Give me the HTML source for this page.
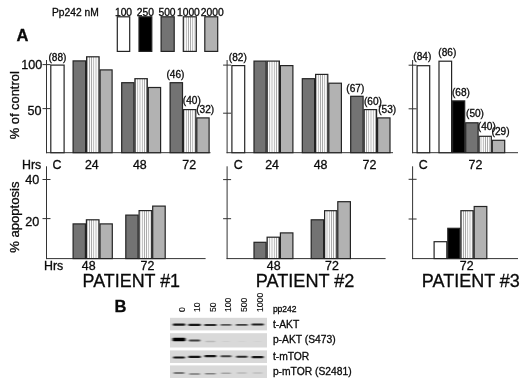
<!DOCTYPE html>
<html><head><meta charset="utf-8"><title>Figure</title>
<style>
html,body{margin:0;padding:0;background:#fff;}
body{width:520px;height:378px;overflow:hidden;}
svg{display:block;font-family:"Liberation Sans",sans-serif;}
text{fill:#0a0a0a;stroke:#0a0a0a;stroke-width:0.3px;}
</style></head><body>
<svg width="520" height="378" viewBox="0 0 520 378">
<defs>
<pattern id="st" width="2.2" height="4" patternUnits="userSpaceOnUse" patternTransform="translate(0.3 0)"><rect width="2.2" height="4" fill="#fbfbfb"/><rect x="0.8" width="0.6" height="4" fill="#888"/></pattern>
<filter id="bl" x="-20%" y="-200%" width="140%" height="500%"><feGaussianBlur stdDeviation="0.9 0.6"/></filter>
</defs>
<rect width="520" height="378" fill="#fff"/>
<rect x="117.30" y="16.8" width="12.40" height="34.6" fill="#fff" stroke="#242424" stroke-width="1.2"/>
<text x="123.5" y="15.9" font-size="10.3" text-anchor="middle" font-weight="normal" >100</text>
<rect x="139.00" y="16.8" width="12.80" height="34.6" fill="#000" stroke="#242424" stroke-width="1.2"/>
<text x="145.4" y="15.9" font-size="10.3" text-anchor="middle" font-weight="normal" >250</text>
<rect x="161.10" y="16.8" width="13.10" height="34.6" fill="#737373" stroke="#242424" stroke-width="1.2"/>
<text x="167" y="15.9" font-size="10.3" text-anchor="middle" font-weight="normal" >500</text>
<rect x="183.30" y="16.8" width="13.00" height="34.6" fill="url(#st)" stroke="#242424" stroke-width="1.2"/>
<text x="188.4" y="15.9" font-size="10.3" text-anchor="middle" font-weight="normal" >1000</text>
<rect x="204.80" y="16.8" width="12.90" height="34.6" fill="#b2b2b2" stroke="#242424" stroke-width="1.2"/>
<text x="212.2" y="15.9" font-size="10.3" text-anchor="middle" font-weight="normal" >2000</text>
<text x="52" y="15.5" font-size="10.25" text-anchor="start" font-weight="normal" >Pp242 nM</text>
<text x="16.6" y="40.7" font-size="16.5" text-anchor="start" font-weight="bold" >A</text>
<text x="114.5" y="312.2" font-size="16.5" text-anchor="start" font-weight="bold" >B</text>
<line x1="46.5" y1="60" x2="46.5" y2="153.2" stroke="#333" stroke-width="1"/>
<line x1="46.0" y1="152.7" x2="210.5" y2="152.7" stroke="#333" stroke-width="1"/>
<line x1="42.5" y1="64.6" x2="50.5" y2="64.6" stroke="#333" stroke-width="1"/>
<line x1="42.5" y1="108.6" x2="50.5" y2="108.6" stroke="#333" stroke-width="1"/>
<rect x="50.80" y="65.10" width="13.30" height="87.60" fill="#fff" stroke="#242424" stroke-width="1.2"/>
<rect x="73.10" y="60.90" width="12.50" height="91.80" fill="#737373" stroke="#242424" stroke-width="1.2"/>
<rect x="86.60" y="56.80" width="12.50" height="95.90" fill="url(#st)" stroke="#242424" stroke-width="1.2"/>
<rect x="100.10" y="69.90" width="12.00" height="82.80" fill="#b2b2b2" stroke="#242424" stroke-width="1.2"/>
<rect x="121.70" y="82.70" width="12.20" height="70.00" fill="#737373" stroke="#242424" stroke-width="1.2"/>
<rect x="134.90" y="78.70" width="12.40" height="74.00" fill="url(#st)" stroke="#242424" stroke-width="1.2"/>
<rect x="148.30" y="87.50" width="12.30" height="65.20" fill="#b2b2b2" stroke="#242424" stroke-width="1.2"/>
<rect x="170.10" y="82.70" width="12.40" height="70.00" fill="#737373" stroke="#242424" stroke-width="1.2"/>
<rect x="183.50" y="109.60" width="12.30" height="43.10" fill="url(#st)" stroke="#242424" stroke-width="1.2"/>
<rect x="196.80" y="117.90" width="12.30" height="34.80" fill="#b2b2b2" stroke="#242424" stroke-width="1.2"/>
<text x="57.4" y="61" font-size="10.1" text-anchor="middle" font-weight="normal" >(88)</text>
<text x="175.4" y="78.2" font-size="10.1" text-anchor="middle" font-weight="normal" >(46)</text>
<text x="191.8" y="104.2" font-size="10.1" text-anchor="middle" font-weight="normal" >(40)</text>
<text x="205.2" y="113" font-size="10.1" text-anchor="middle" font-weight="normal" >(32)</text>
<text x="42.2" y="68.9" font-size="12.6" text-anchor="end" font-weight="normal" >100</text>
<text x="41.6" y="115.2" font-size="12.6" text-anchor="end" font-weight="normal" >50</text>
<text transform="translate(18.9 139.3) rotate(-90)" font-size="12.9" text-anchor="start">% of control</text>
<text x="22" y="168.8" font-size="12.4" text-anchor="start" font-weight="normal" >Hrs</text>
<text x="57.1" y="168.8" font-size="12.4" text-anchor="middle" font-weight="normal" >C</text>
<text x="91.8" y="168.8" font-size="12.4" text-anchor="middle" font-weight="normal" >24</text>
<text x="139.8" y="168.8" font-size="12.4" text-anchor="middle" font-weight="normal" >48</text>
<text x="189.2" y="168.8" font-size="12.4" text-anchor="middle" font-weight="normal" >72</text>
<line x1="46.5" y1="166.3" x2="46.5" y2="259.1" stroke="#333" stroke-width="1"/>
<line x1="46.0" y1="258.6" x2="205.6" y2="258.6" stroke="#333" stroke-width="1"/>
<line x1="42.5" y1="179.5" x2="50.5" y2="179.5" stroke="#333" stroke-width="1"/>
<line x1="42.5" y1="218.6" x2="50.5" y2="218.6" stroke="#333" stroke-width="1"/>
<rect x="73.10" y="223.90" width="12.30" height="34.70" fill="#737373" stroke="#242424" stroke-width="1.2"/>
<rect x="86.40" y="219.80" width="12.60" height="38.80" fill="url(#st)" stroke="#242424" stroke-width="1.2"/>
<rect x="100.00" y="223.90" width="12.30" height="34.70" fill="#b2b2b2" stroke="#242424" stroke-width="1.2"/>
<rect x="125.80" y="215.10" width="12.30" height="43.50" fill="#737373" stroke="#242424" stroke-width="1.2"/>
<rect x="139.10" y="210.60" width="12.60" height="48.00" fill="url(#st)" stroke="#242424" stroke-width="1.2"/>
<rect x="152.70" y="206.10" width="12.50" height="52.50" fill="#b2b2b2" stroke="#242424" stroke-width="1.2"/>
<text x="39.2" y="183.8" font-size="12.6" text-anchor="end" font-weight="normal" >40</text>
<text x="39.2" y="225.8" font-size="12.6" text-anchor="end" font-weight="normal" >20</text>
<text transform="translate(18.9 252.8) rotate(-90)" font-size="13.1" text-anchor="start">% apoptosis</text>
<text x="44" y="269.5" font-size="12.4" text-anchor="start" font-weight="normal" >Hrs</text>
<text x="88.7" y="269.5" font-size="12.4" text-anchor="middle" font-weight="normal" >48</text>
<text x="147.5" y="269.5" font-size="12.4" text-anchor="middle" font-weight="normal" >72</text>
<text x="82.6" y="287.2" font-size="17.9" text-anchor="start" font-weight="normal" >PATIENT #1</text>
<line x1="227.1" y1="60" x2="227.1" y2="153.2" stroke="#333" stroke-width="1"/>
<line x1="226.6" y1="152.7" x2="393" y2="152.7" stroke="#333" stroke-width="1"/>
<line x1="223.1" y1="65.1" x2="231.1" y2="65.1" stroke="#333" stroke-width="1"/>
<line x1="223.1" y1="113.2" x2="231.1" y2="113.2" stroke="#333" stroke-width="1"/>
<rect x="231.90" y="65.60" width="12.80" height="87.10" fill="#fff" stroke="#242424" stroke-width="1.2"/>
<rect x="254.00" y="61.10" width="12.10" height="91.60" fill="#737373" stroke="#242424" stroke-width="1.2"/>
<rect x="267.10" y="61.10" width="12.30" height="91.60" fill="url(#st)" stroke="#242424" stroke-width="1.2"/>
<rect x="280.40" y="65.60" width="12.50" height="87.10" fill="#b2b2b2" stroke="#242424" stroke-width="1.2"/>
<rect x="302.30" y="78.70" width="12.30" height="74.00" fill="#737373" stroke="#242424" stroke-width="1.2"/>
<rect x="315.60" y="74.40" width="12.20" height="78.30" fill="url(#st)" stroke="#242424" stroke-width="1.2"/>
<rect x="328.80" y="83.20" width="12.60" height="69.50" fill="#b2b2b2" stroke="#242424" stroke-width="1.2"/>
<rect x="350.70" y="96.30" width="12.40" height="56.40" fill="#737373" stroke="#242424" stroke-width="1.2"/>
<rect x="364.10" y="109.60" width="12.50" height="43.10" fill="url(#st)" stroke="#242424" stroke-width="1.2"/>
<rect x="377.60" y="117.90" width="12.40" height="34.80" fill="#b2b2b2" stroke="#242424" stroke-width="1.2"/>
<text x="237.8" y="60.5" font-size="10.1" text-anchor="middle" font-weight="normal" >(82)</text>
<text x="355.3" y="91.5" font-size="10.1" text-anchor="middle" font-weight="normal" >(67)</text>
<text x="372.9" y="104.6" font-size="10.1" text-anchor="middle" font-weight="normal" >(60)</text>
<text x="387.2" y="113" font-size="10.1" text-anchor="middle" font-weight="normal" >(53)</text>
<text x="238.2" y="168.8" font-size="12.4" text-anchor="middle" font-weight="normal" >C</text>
<text x="272.1" y="168.8" font-size="12.4" text-anchor="middle" font-weight="normal" >24</text>
<text x="320.6" y="168.8" font-size="12.4" text-anchor="middle" font-weight="normal" >48</text>
<text x="369.5" y="168.8" font-size="12.4" text-anchor="middle" font-weight="normal" >72</text>
<line x1="227.1" y1="166.3" x2="227.1" y2="259.1" stroke="#333" stroke-width="1"/>
<line x1="226.6" y1="258.6" x2="385.6" y2="258.6" stroke="#333" stroke-width="1"/>
<line x1="223.1" y1="179.6" x2="231.1" y2="179.6" stroke="#333" stroke-width="1"/>
<line x1="223.1" y1="218.7" x2="231.1" y2="218.7" stroke="#333" stroke-width="1"/>
<rect x="254.00" y="242.30" width="12.10" height="16.30" fill="#737373" stroke="#242424" stroke-width="1.2"/>
<rect x="267.10" y="237.20" width="12.30" height="21.40" fill="url(#st)" stroke="#242424" stroke-width="1.2"/>
<rect x="280.40" y="232.90" width="12.50" height="25.70" fill="#b2b2b2" stroke="#242424" stroke-width="1.2"/>
<rect x="311.20" y="219.80" width="12.40" height="38.80" fill="#737373" stroke="#242424" stroke-width="1.2"/>
<rect x="324.60" y="210.70" width="12.20" height="47.90" fill="url(#st)" stroke="#242424" stroke-width="1.2"/>
<rect x="337.80" y="201.70" width="12.60" height="56.90" fill="#b2b2b2" stroke="#242424" stroke-width="1.2"/>
<text x="273.7" y="269.5" font-size="12.4" text-anchor="middle" font-weight="normal" >48</text>
<text x="332" y="269.5" font-size="12.4" text-anchor="middle" font-weight="normal" >72</text>
<text x="354.4" y="287.2" font-size="18.1" text-anchor="end" font-weight="normal" >PATIENT #2</text>
<line x1="412.6" y1="60" x2="412.6" y2="153.2" stroke="#333" stroke-width="1"/>
<line x1="412.1" y1="152.7" x2="518" y2="152.7" stroke="#333" stroke-width="1"/>
<line x1="408.6" y1="65.2" x2="416.6" y2="65.2" stroke="#333" stroke-width="1"/>
<line x1="408.6" y1="108.8" x2="416.6" y2="108.8" stroke="#333" stroke-width="1"/>
<rect x="417.10" y="65.70" width="12.60" height="87.00" fill="#fff" stroke="#242424" stroke-width="1.2"/>
<rect x="439.00" y="61.20" width="12.60" height="91.50" fill="#fff" stroke="#242424" stroke-width="1.2"/>
<rect x="452.60" y="100.90" width="12.10" height="51.80" fill="#000" stroke="#242424" stroke-width="1.2"/>
<rect x="465.70" y="122.80" width="12.40" height="29.90" fill="#737373" stroke="#242424" stroke-width="1.2"/>
<rect x="479.10" y="136.30" width="12.20" height="16.40" fill="url(#st)" stroke="#242424" stroke-width="1.2"/>
<rect x="492.30" y="140.30" width="12.40" height="12.40" fill="#b2b2b2" stroke="#242424" stroke-width="1.2"/>
<text x="422.3" y="60.2" font-size="10.1" text-anchor="middle" font-weight="normal" >(84)</text>
<text x="447.3" y="55.9" font-size="10.1" text-anchor="middle" font-weight="normal" >(86)</text>
<text x="460.9" y="95.9" font-size="10.1" text-anchor="middle" font-weight="normal" >(68)</text>
<text x="475" y="117.2" font-size="10.1" text-anchor="middle" font-weight="normal" >(50)</text>
<text x="486.8" y="130.2" font-size="10.1" text-anchor="middle" font-weight="normal" >(40)</text>
<text x="500.6" y="134.8" font-size="10.1" text-anchor="middle" font-weight="normal" >(29)</text>
<text x="423.2" y="168.8" font-size="12.4" text-anchor="middle" font-weight="normal" >C</text>
<text x="475.5" y="168.8" font-size="12.4" text-anchor="middle" font-weight="normal" >72</text>
<line x1="412.6" y1="166.3" x2="412.6" y2="259.1" stroke="#333" stroke-width="1"/>
<line x1="412.1" y1="258.6" x2="518" y2="258.6" stroke="#333" stroke-width="1"/>
<line x1="408.6" y1="179.3" x2="416.6" y2="179.3" stroke="#333" stroke-width="1"/>
<line x1="408.6" y1="219" x2="416.6" y2="219" stroke="#333" stroke-width="1"/>
<rect x="434.10" y="241.70" width="12.70" height="16.90" fill="#fff" stroke="#242424" stroke-width="1.2"/>
<rect x="447.80" y="228.30" width="12.10" height="30.30" fill="#000" stroke="#242424" stroke-width="1.2"/>
<rect x="460.90" y="210.70" width="12.30" height="47.90" fill="url(#st)" stroke="#242424" stroke-width="1.2"/>
<rect x="474.20" y="206.50" width="12.60" height="52.10" fill="#b2b2b2" stroke="#242424" stroke-width="1.2"/>
<text x="466.7" y="269.5" font-size="12.4" text-anchor="middle" font-weight="normal" >72</text>
<text x="421.8" y="287.2" font-size="18.0" text-anchor="start" font-weight="normal" >PATIENT #3</text>
<rect x="170" y="317.8" width="97" height="12.599999999999966" fill="#d9d9d9"/>
<rect x="170" y="333.2" width="97" height="14.300000000000011" fill="#d9d9d9"/>
<rect x="170" y="350.4" width="97" height="12.600000000000023" fill="#d9d9d9"/>
<rect x="170" y="365.4" width="97" height="12.600000000000023" fill="#d9d9d9"/>
<g filter="url(#bl)">
<rect x="172.8" y="323.5" width="12.5" height="2.2" rx="1" fill="#000" fill-opacity="0.9"/>
<rect x="188.3" y="323.7" width="12.5" height="2.4" rx="1" fill="#000" fill-opacity="0.9"/>
<rect x="204.2" y="323.9" width="12.5" height="2" rx="1" fill="#000" fill-opacity="0.8"/>
<rect x="220.5" y="324.0" width="11" height="1.8" rx="1" fill="#000" fill-opacity="0.6"/>
<rect x="235.8" y="324.0" width="12" height="1.8" rx="1" fill="#000" fill-opacity="0.7"/>
<rect x="251.4" y="323.6" width="12.5" height="2" rx="1" fill="#000" fill-opacity="0.85"/>
<rect x="172.5" y="337.7" width="13" height="3.6" rx="1" fill="#000" fill-opacity="1.0"/>
<rect x="188.8" y="339.5" width="11.5" height="2" rx="1" fill="#000" fill-opacity="0.7"/>
<rect x="205.4" y="340.8" width="10" height="1.5" rx="1" fill="#000" fill-opacity="0.15"/>
<rect x="222.0" y="341.0" width="8" height="1" rx="1" fill="#000" fill-opacity="0.05"/>
<rect x="237.8" y="341.0" width="8" height="1" rx="1" fill="#000" fill-opacity="0.03"/>
<rect x="253.6" y="341.0" width="8" height="1" rx="1" fill="#000" fill-opacity="0.03"/>
<rect x="173.0" y="356.4" width="12" height="2.2" rx="1" fill="#000" fill-opacity="0.9"/>
<rect x="188.3" y="355.8" width="12.5" height="2.2" rx="1" fill="#000" fill-opacity="0.9"/>
<rect x="204.4" y="355.1" width="12" height="2.2" rx="1" fill="#000" fill-opacity="0.9"/>
<rect x="220.5" y="355.2" width="11" height="2" rx="1" fill="#000" fill-opacity="0.7"/>
<rect x="236.1" y="355.8" width="11.5" height="2" rx="1" fill="#000" fill-opacity="0.8"/>
<rect x="251.6" y="356.1" width="12" height="2.2" rx="1" fill="#000" fill-opacity="0.9"/>
<rect x="173.5" y="372.2" width="11" height="1.6" rx="1" fill="#000" fill-opacity="0.6"/>
<rect x="189.1" y="373.2" width="11" height="1.5" rx="1" fill="#000" fill-opacity="0.45"/>
<rect x="204.9" y="372.9" width="11" height="1.5" rx="1" fill="#000" fill-opacity="0.4"/>
<rect x="221.0" y="372.6" width="10" height="1.4" rx="1" fill="#000" fill-opacity="0.25"/>
<rect x="236.8" y="372.3" width="10" height="1.4" rx="1" fill="#000" fill-opacity="0.15"/>
<rect x="252.6" y="372.3" width="10" height="1.4" rx="1" fill="#000" fill-opacity="0.12"/>
</g>
<text transform="translate(185.2 312.1) rotate(-90)" font-size="8.7" text-anchor="start" style="stroke-width:0.12px">0</text>
<text transform="translate(200.0 312.1) rotate(-90)" font-size="8.7" text-anchor="start" style="stroke-width:0.12px">10</text>
<text transform="translate(215.7 312.1) rotate(-90)" font-size="8.7" text-anchor="start" style="stroke-width:0.12px">50</text>
<text transform="translate(231.4 312.1) rotate(-90)" font-size="8.7" text-anchor="start" style="stroke-width:0.12px">100</text>
<text transform="translate(246.7 312.1) rotate(-90)" font-size="8.7" text-anchor="start" style="stroke-width:0.12px">500</text>
<text transform="translate(262.70000000000005 312.1) rotate(-90)" font-size="8.7" text-anchor="start" style="stroke-width:0.12px">1000</text>
<text x="272.9" y="311.8" font-size="8.5" text-anchor="start" font-weight="normal" >pp242</text>
<text x="272.9" y="327.7" font-size="10.3" text-anchor="start" font-weight="normal" >t-AKT</text>
<text x="272.9" y="342.7" font-size="10.3" text-anchor="start" font-weight="normal" >p-AKT (S473)</text>
<text x="272.9" y="359.8" font-size="10.3" text-anchor="start" font-weight="normal" >t-mTOR</text>
<text x="272.9" y="375.3" font-size="10.3" text-anchor="start" font-weight="normal" >p-mTOR (S2481)</text>
</svg>
</body></html>
